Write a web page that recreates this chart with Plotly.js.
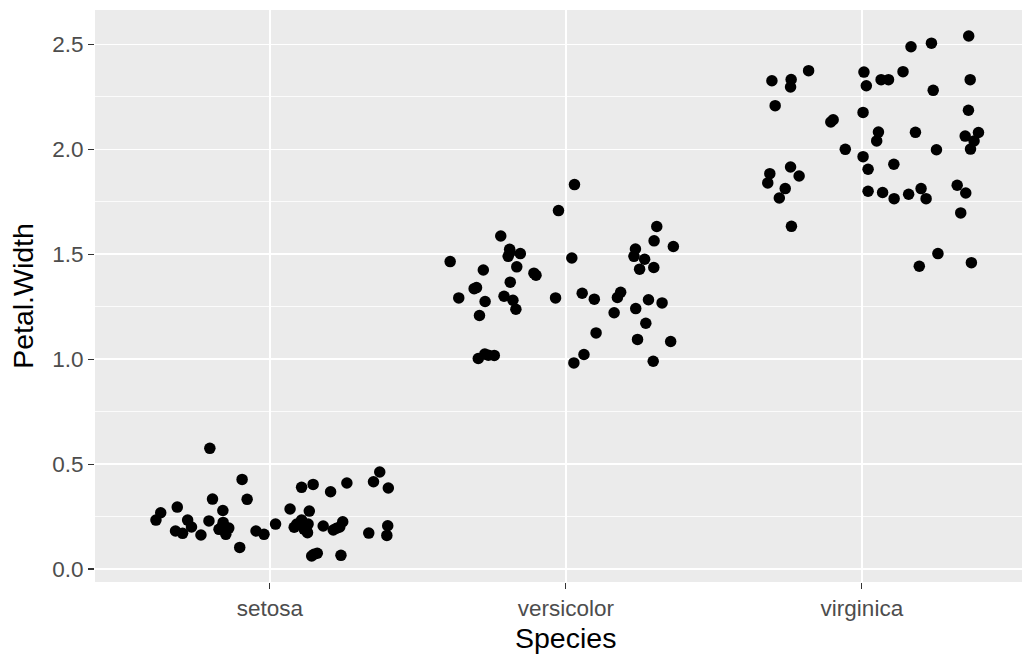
<!DOCTYPE html>
<html>
<head>
<meta charset="utf-8">
<script src="https://cdn.plot.ly/plotly-3.0.1.min.js"></script>
<style>html,body{margin:0;padding:0;background:#fff;}#chart{width:1032px;height:658px;}</style>
</head>
<body>
<div id="chart"></div>
<script>
// Categories and tick labels
const species = ["setosa", "versicolor", "virginica"];

// Horizontal jitter offsets (in category units) and Petal.Width values
const setosaJitter = [-0.203,-0.094,-0.194,-0.077,-0.313,-0.159,-0.369,-0.385,-0.278,-0.206,
  -0.158,-0.265,-0.319,-0.295,-0.233,-0.172,-0.149,-0.047,-0.020,-0.102,
  0.019,0.068,0.107,0.146,0.205,0.260,0.371,0.350,0.400,0.133,
  0.082,0.107,0.129,0.127,0.180,0.214,0.246,0.236,0.141,0.160,
  0.240,0.334,0.398,0.395,0.149,-0.163,0.225,0.091,0.115,-0.139];
const setosaWidth = [0.575,0.427,0.333,0.332,0.295,0.279,0.268,0.233,0.233,0.229,
  0.222,0.200,0.181,0.170,0.162,0.189,0.165,0.181,0.165,0.103,
  0.214,0.286,0.389,0.403,0.368,0.410,0.462,0.416,0.386,0.276,
  0.199,0.233,0.214,0.173,0.205,0.186,0.225,0.200,0.062,0.075,
  0.065,0.171,0.206,0.160,0.070,0.200,0.194,0.214,0.190,0.195];

const versicolorJitter = [-0.025,-0.220,-0.190,-0.195,-0.154,-0.391,-0.166,-0.279,-0.108,-0.101,
  -0.188,-0.302,-0.310,-0.362,-0.035,-0.273,-0.209,-0.179,-0.169,-0.292,
  -0.296,-0.274,-0.242,-0.262,0.029,0.307,0.298,0.363,0.235,0.230,
  0.266,0.020,0.249,0.297,0.055,0.096,0.185,0.174,0.279,0.325,
  0.163,0.236,0.270,0.102,0.242,0.354,0.061,0.027,0.295,-0.189];
const versicolorWidth = [1.708,1.587,1.524,1.490,1.503,1.465,1.440,1.425,1.410,1.400,
  1.367,1.341,1.336,1.292,1.292,1.275,1.300,1.281,1.238,1.208,
  1.003,1.024,1.018,1.019,1.832,1.632,1.564,1.537,1.525,1.490,
  1.476,1.482,1.429,1.437,1.314,1.286,1.319,1.294,1.283,1.268,
  1.221,1.241,1.171,1.125,1.094,1.084,1.022,0.982,0.990,1.510];

const virginicaJitter = [-0.180,-0.304,-0.239,-0.241,-0.293,0.007,0.015,-0.097,-0.105,0.004,
  -0.056,0.004,0.021,0.021,-0.241,-0.212,-0.311,-0.318,-0.259,-0.279,
  -0.238,0.361,0.235,0.166,0.065,0.090,0.139,0.366,0.241,0.360,
  0.056,0.050,0.181,0.349,0.394,0.379,0.367,0.252,0.108,0.070,
  0.109,0.158,0.200,0.217,0.322,0.351,0.334,0.257,0.194,0.370];
const virginicaWidth = [2.375,2.327,2.333,2.297,2.208,2.368,2.303,2.141,2.130,2.176,
  2.000,1.965,1.905,1.800,1.916,1.873,1.884,1.840,1.813,1.768,
  1.633,2.540,2.506,2.489,2.332,2.332,2.370,2.332,2.281,2.186,
  2.082,2.040,2.081,2.063,2.080,2.040,2.001,1.998,1.929,1.794,
  1.765,1.786,1.813,1.765,1.829,1.792,1.697,1.503,1.443,1.460];

const yTicks = [0.0, 0.5, 1.0, 1.5, 2.0, 2.5];
const yTickText = ["0.0", "0.5", "1.0", "1.5", "2.0", "2.5"];
const xTitle = "Species";
const yTitle = "Petal.Width";

const jitters = [setosaJitter, versicolorJitter, virginicaJitter];
const widths = [setosaWidth, versicolorWidth, virginicaWidth];

const xs = [], ys = [];
species.forEach((s, i) => {
  jitters[i].forEach((j, k) => { xs.push(i + 1 + j); ys.push(widths[i][k]); });
});

const trace = {
  type: "scatter", mode: "markers", x: xs, y: ys,
  marker: {color: "#000000", size: 11.5, line: {width: 0}},
  hoverinfo: "skip", showlegend: false, cliponaxis: false
};

const font = "'Liberation Sans', Arial, Helvetica, sans-serif";
const layout = {
  width: 1032, height: 658,
  margin: {l: 95, r: 10, t: 10, b: 76, pad: 0},
  paper_bgcolor: "#ffffff", plot_bgcolor: "#EBEBEB",
  font: {family: font, color: "#4D4D4D"},
  xaxis: {
    range: [0.409, 3.541], tickmode: "array", tickvals: [1, 2, 3], ticktext: species,
    showgrid: true, gridcolor: "#ffffff", gridwidth: 1.6, zeroline: false, showline: false,
    ticks: "outside", ticklen: 6, tickwidth: 1.1, tickcolor: "#333333",
    tickfont: {family: font, size: 22.5, color: "#4D4D4D"},
    automargin: false, fixedrange: true
  },
  yaxis: {
    range: [-0.062, 2.664], tickmode: "array", tickvals: yTicks, ticktext: yTickText,
    showgrid: true, gridcolor: "#ffffff", gridwidth: 1.6, zeroline: false, showline: false,
    ticks: "outside", ticklen: 6, tickwidth: 1.1, tickcolor: "#333333",
    tickfont: {family: font, size: 22.5, color: "#4D4D4D"},
    minor: {tickmode: "array", tickvals: [0.25, 0.75, 1.25, 1.75, 2.25], showgrid: true, gridcolor: "#ffffff", gridwidth: 0.8, ticks: ""},
    title: {text: yTitle, font: {family: font, size: 28.5, color: "#000000"}, standoff: 10},
    automargin: false, fixedrange: true
  },
  annotations: [{
    text: xTitle, xref: "x", x: 2, yref: "paper", y: -0.0979,
    xanchor: "center", yanchor: "middle", showarrow: false,
    font: {family: font, size: 28.5, color: "#000000"}
  }]
};

Plotly.newPlot("chart", [trace], layout, {staticPlot: true, displayModeBar: false});
</script>
</body>
</html>
